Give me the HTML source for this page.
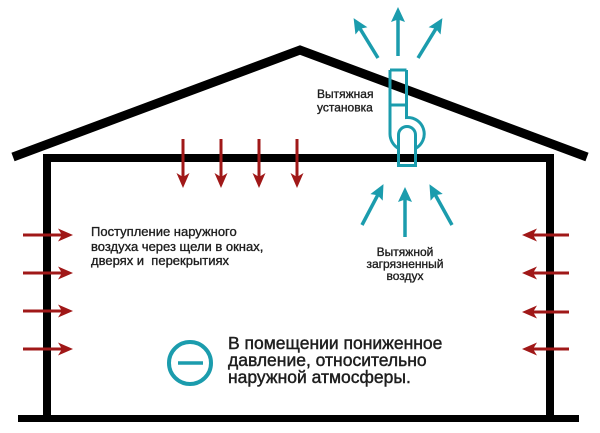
<!DOCTYPE html>
<html>
<head>
<meta charset="utf-8">
<style>
  html,body{margin:0;padding:0;background:#fff;}
  svg{display:block;}
  text{font-family:"Liberation Sans","DejaVu Sans",sans-serif;fill:#1e1e1e;stroke:#1e1e1e;stroke-width:0.35px;}
</style>
</head>
<body>
<svg width="600" height="433" viewBox="0 0 600 433" xmlns="http://www.w3.org/2000/svg">
  <defs>
    <marker id="red" markerUnits="userSpaceOnUse" viewBox="0 0 15 13" refX="5" refY="6.5" markerWidth="15" markerHeight="13" orient="auto">
      <path d="M0,0 L15,6.5 L0,13 L4,6.5 Z" fill="#a01818"/>
    </marker>
    <marker id="teal" markerUnits="userSpaceOnUse" viewBox="0 0 15 14" refX="6" refY="7" markerWidth="15" markerHeight="14" orient="auto">
      <path d="M0,0 L15,7 L0,14 L2.5,7 Z" fill="#1b9cad"/>
    </marker>
  </defs>

  <!-- roof -->
  <polyline points="13,157 300,50 587,157" fill="none" stroke="#000" stroke-width="9" stroke-linejoin="miter"/>
  <!-- walls -->
  <path d="M47,418 V158 H550 V418" fill="none" stroke="#000" stroke-width="8"/>
  <path d="M18,418.5 H579" stroke="#000" stroke-width="7"/>

  <!-- red arrows -->
  <g stroke="#a01818" stroke-width="3" fill="none" marker-end="url(#red)">
    <line x1="183" y1="139" x2="183" y2="178"/>
    <line x1="221" y1="139" x2="221" y2="178"/>
    <line x1="259" y1="139" x2="259" y2="178"/>
    <line x1="297" y1="139" x2="297" y2="178"/>
    <line x1="23" y1="235" x2="63" y2="235"/>
    <line x1="23" y1="273" x2="63" y2="273"/>
    <line x1="23" y1="311" x2="63" y2="311"/>
    <line x1="23" y1="349" x2="63" y2="349"/>
    <line x1="569" y1="235" x2="532" y2="235"/>
    <line x1="569" y1="273" x2="532" y2="273"/>
    <line x1="569" y1="312" x2="532" y2="312"/>
    <line x1="569" y1="349" x2="532" y2="349"/>
  </g>

  <!-- teal arrows -->
  <g stroke="#1b9cad" stroke-width="3.5" fill="none" marker-end="url(#teal)">
    <line x1="398" y1="56" x2="398" y2="16"/>
    <line x1="378" y1="58" x2="358.3" y2="25.8"/>
    <line x1="418" y1="58" x2="437.7" y2="25.8"/>
    <line x1="405" y1="237" x2="405" y2="196"/>
    <line x1="362" y1="225" x2="379.3" y2="192.1"/>
    <line x1="452" y1="225" x2="433.8" y2="192.1"/>
  </g>

  <!-- exhaust unit -->
  <g stroke="#1b9cad" stroke-width="3" fill="none">
    <path d="M390,70 H406.5"/>
    <path d="M390,105 H406.5"/>
    <path d="M390,70 V134 A17,17 0 0 0 398.5,148.5"/>
    <path d="M406.5,70 V117.5 A16.5,16.5 0 0 1 415.5,148.5"/>
    <path d="M398.5,148 V165.5 H415.5 V148"/>
    <path d="M398.5,152 V135 A8.5,8.5 0 0 1 415.5,135 V152"/>
  </g>

  <!-- minus circle -->
  <circle cx="190" cy="363" r="21" fill="none" stroke="#1b9cad" stroke-width="4"/>
  <path d="M178,363 H203" stroke="#1b9cad" stroke-width="3.5"/>

  <!-- labels -->
  <text x="317" y="98" font-size="12">Вытяжная</text>
  <text x="317" y="111.5" font-size="12">установка</text>

  <text x="405" y="256" font-size="12" text-anchor="middle">Вытяжной</text>
  <text x="405" y="268" font-size="12" text-anchor="middle">загрязненный</text>
  <text x="405" y="280" font-size="12" text-anchor="middle">воздух</text>

  <text x="91" y="236" font-size="13">Поступление наружного</text>
  <text x="91" y="251" font-size="13">воздуха через щели в окнах,</text>
  <text x="91" y="265" font-size="13" xml:space="preserve">дверях и  перекрытиях</text>

  <text x="228" y="349" font-size="17.5" style="stroke-width:0.45px">В помещении пониженное</text>
  <text x="228" y="366" font-size="17.5" style="stroke-width:0.45px">давление, относительно</text>
  <text x="228" y="383" font-size="17.5" style="stroke-width:0.45px">наружной атмосферы.</text>
</svg>
</body>
</html>
